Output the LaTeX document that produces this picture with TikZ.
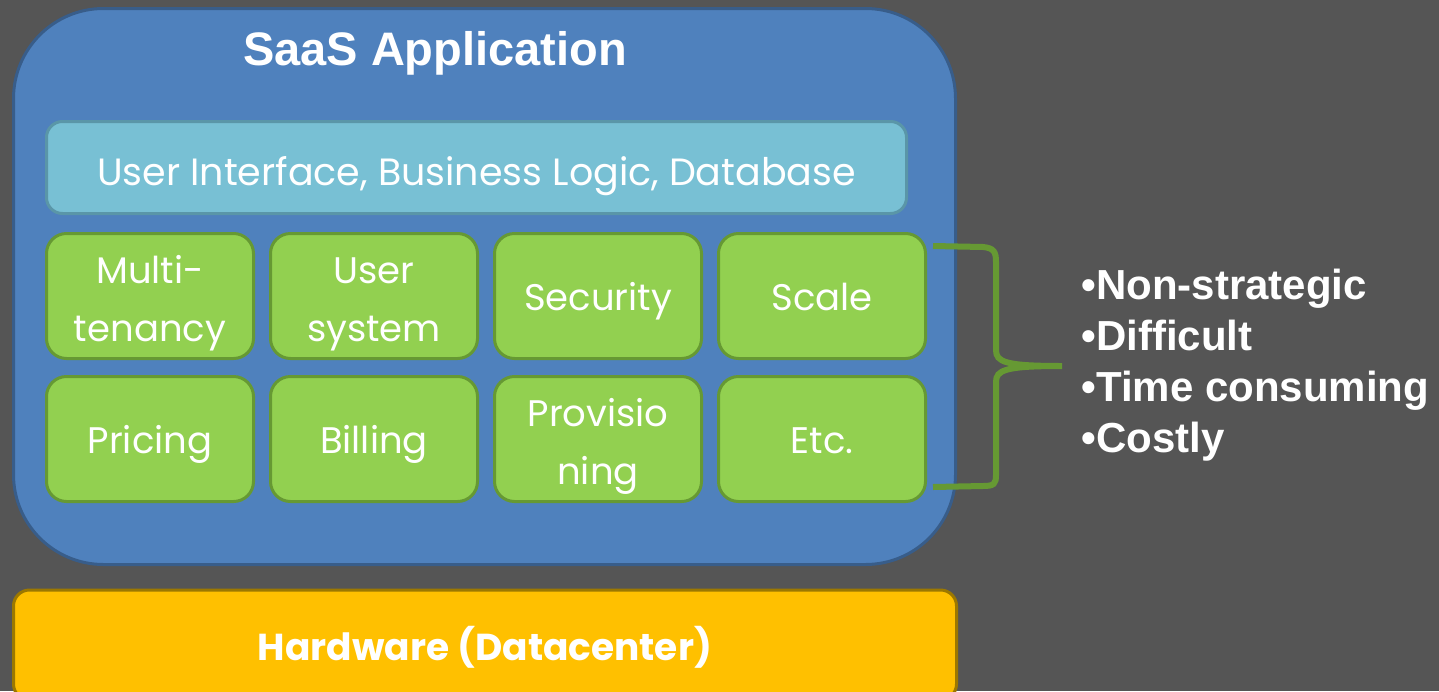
\documentclass[tikz,border=0pt]{standalone}
\usepackage{fontspec}
\setmainfont{Liberation Sans}
\newfontfamily\gothic{Poppins}
\usetikzlibrary{positioning}
\definecolor{fondo}{RGB}{85,85,85}
\definecolor{azul}{RGB}{79,129,189}
\definecolor{azulborde}{RGB}{56,93,138}
\definecolor{celeste}{RGB}{120,192,212}
\definecolor{celesteborde}{RGB}{90,150,168}
\definecolor{verde}{RGB}{146,208,80}
\definecolor{verdeborde}{RGB}{102,153,51}
\definecolor{ambar}{RGB}{255,192,0}
\definecolor{ambarborde}{RGB}{156,120,0}
\begin{document}
\begin{tikzpicture}[x=1pt, y=-1pt, text=white,
  app/.style={draw=azulborde, fill=azul, line width=3pt, rounded corners=90pt, minimum width=942pt, minimum height=556pt, inner sep=0pt},
  capa/.style={draw=celesteborde, fill=celeste, line width=3pt, rounded corners=16pt, minimum width=860pt, minimum height=92pt, inner sep=0pt, text height=35pt, text depth=0pt, font=\gothic\fontsize{38}{46}\selectfont},
  modulo/.style={draw=verdeborde, fill=verde, line width=3pt, rounded corners=20pt, minimum width=207pt, minimum height=125pt, inner sep=0pt, outer sep=0pt, align=center, text height=28pt, text depth=0pt, font=\gothic\fontsize{37}{58}\selectfont},
  doble/.style={text height=90pt},
  hw/.style={draw=ambarborde, fill=ambar, line width=3pt, rounded corners=16pt, minimum width=943pt, minimum height=110pt, inner sep=0pt, text height=30pt, text depth=0pt, font=\gothic\bfseries\fontsize{37.5}{45}\selectfont},
  llave/.style={draw=verdeborde, line width=6pt}]
  % Fondo
  \fill[fondo] (0,0) rectangle (1439,691);
  \useasboundingbox (0,0) rectangle (1439,691);

  % Aplicacion
  \node[app] (saas) at (484.5,286.5) {};
  \node[anchor=base, font=\bfseries\fontsize{47}{56}\selectfont] (titulo) at (435,65) {SaaS Application};
  \node[capa] (ui) at (476.5,167.5) {User Interface, Business Logic, Database};

  % Modulos
  \node[modulo, doble] (mt) at (150,296) {Multi-\\tenancy};
  \node[modulo, doble] (us) [right=17pt of mt] {User\\system};
  \node[modulo] (sec) [right=17pt of us] {Security};
  \node[modulo] (sca) [right=17pt of sec] {Scale};
  \node[modulo] (pri) [below=18pt of mt] {Pricing};
  \node[modulo] (bil) [right=17pt of pri] {Billing};
  \node[modulo, doble] (pro) [right=17pt of bil] {Provisio\\ning};
  \node[modulo] (etc) [right=17pt of pro] {Etc.};

  % Hardware
  \node[hw] (hard) at (485,645) {Hardware (Datacenter)};

  % Llave y lista
  \draw[llave] (933,246) -- (983,247) .. controls (994,248) and (996,252) .. (996,262)
    -- (996,350) .. controls (996,362) and (1005,366) .. (1062,366)
    .. controls (1005,366) and (996,370) .. (996,382)
    -- (996,475) .. controls (996,484) and (994,486) .. (983,486) -- (933,487);
  \node[anchor=base west, align=left, font=\bfseries\fontsize{42}{51}\selectfont] (lista) at (1078,452)
    {•Non-strategic\\•Difficult\\•Time consuming\\•Costly};
\end{tikzpicture}
\end{document}
